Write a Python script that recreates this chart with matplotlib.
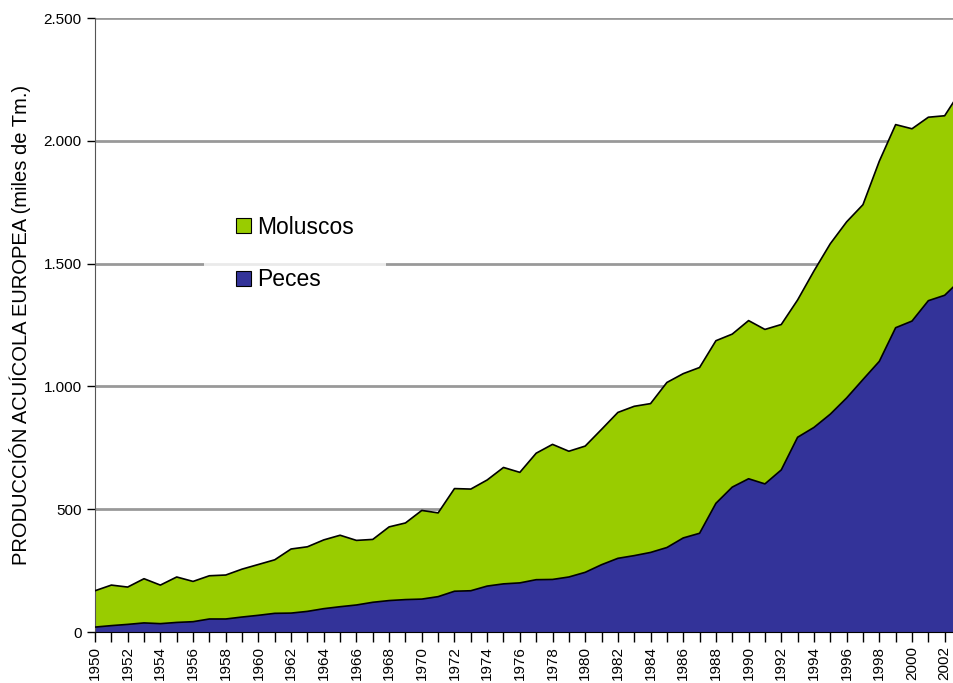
import matplotlib
matplotlib.use("Agg")
import matplotlib.pyplot as plt
from matplotlib.patches import Patch
from matplotlib.ticker import FuncFormatter, MultipleLocator

plt.rcParams['font.family'] = ['Liberation Sans', 'DejaVu Sans']

# datos (miles de Tm.)
anios = list(range(1950, 2004))
peces = [20, 26, 31, 37, 34, 39, 42, 53, 53, 61,
         68, 76, 77, 84, 95, 103, 110, 121, 128, 132,
         134, 144, 166, 168, 187, 196, 200, 213, 214, 224,
         243, 274, 300, 311, 324, 344, 383, 402, 524, 590,
         624, 603, 660, 793, 833, 887, 953, 1028, 1102, 1239,
         1266, 1349, 1371, 1435]
moluscos = [148, 165, 152, 180, 157, 185, 164, 176, 179, 195,
            207, 218, 261, 263, 280, 291, 263, 256, 300, 312,
            361, 341, 418, 414, 432, 474, 450, 515, 550, 512,
            514, 551, 594, 608, 606, 672, 669, 675, 662, 623,
            644, 629, 592, 559, 637, 694, 717, 712, 815, 827,
            783, 747, 731, 770]

total = [p + m for p, m in zip(peces, moluscos)]

verde = '#99CC00'
azul = '#333399'

fig = plt.figure(figsize=(9.54, 6.83), dpi=100)
ax = fig.add_axes([95 / 954, 51 / 683, 866 / 954, 614 / 683])

# lineas de la cuadricula
for v in [500, 1000, 1500, 2000, 2500]:
    ax.axhline(v, color='#999999', lw=2.0, zorder=0)

ax.fill_between(anios, 0, peces, facecolor=azul, edgecolor='none', zorder=2)
ax.fill_between(anios, peces, total, facecolor=verde, edgecolor='none', zorder=2)
ax.plot(anios, peces, color='black', lw=1.2, zorder=3)
ax.plot(anios, total, color='black', lw=1.2, zorder=3)

ax.set_xlim(1950, 2003)
ax.set_ylim(0, 2500)

ax.yaxis.set_major_locator(MultipleLocator(500))
ax.yaxis.set_major_formatter(FuncFormatter(lambda v, p: f"{int(v):,}".replace(",", ".")))
ax.xaxis.set_major_locator(MultipleLocator(2))
ax.xaxis.set_minor_locator(MultipleLocator(1))
ax.tick_params(axis='x', which='both', direction='out', length=7, width=1,
               labelsize=11, labelrotation=90, pad=3)
ax.tick_params(axis='y', direction='out', length=6, width=1, labelsize=11, pad=3.5)

for s in ['top', 'right']:
    ax.spines[s].set_visible(False)
ax.spines['left'].set_color('#555555')
ax.spines['bottom'].set_color('black')

ax.set_ylabel("PRODUCCIÓN ACUÍCOLA EUROPEA (miles de Tm.)", fontsize=14.5, labelpad=9)

handles = [Patch(facecolor=verde, edgecolor='black', lw=0.8, label='Moluscos'),
           Patch(facecolor=azul, edgecolor='black', lw=0.8, label='Peces')]
leg = fig.legend(handles=handles, loc='center', bbox_to_anchor=(295 / 954, 1 - 253.5 / 683),
                 fontsize=16.5, frameon=True, fancybox=False, borderpad=1.4,
                 handlelength=0.65, handleheight=0.65, handletextpad=0.26,
                 labelspacing=1.3)
leg.get_frame().set_facecolor('white')
leg.get_frame().set_edgecolor('none')

fig.savefig('out.png', dpi=100)
